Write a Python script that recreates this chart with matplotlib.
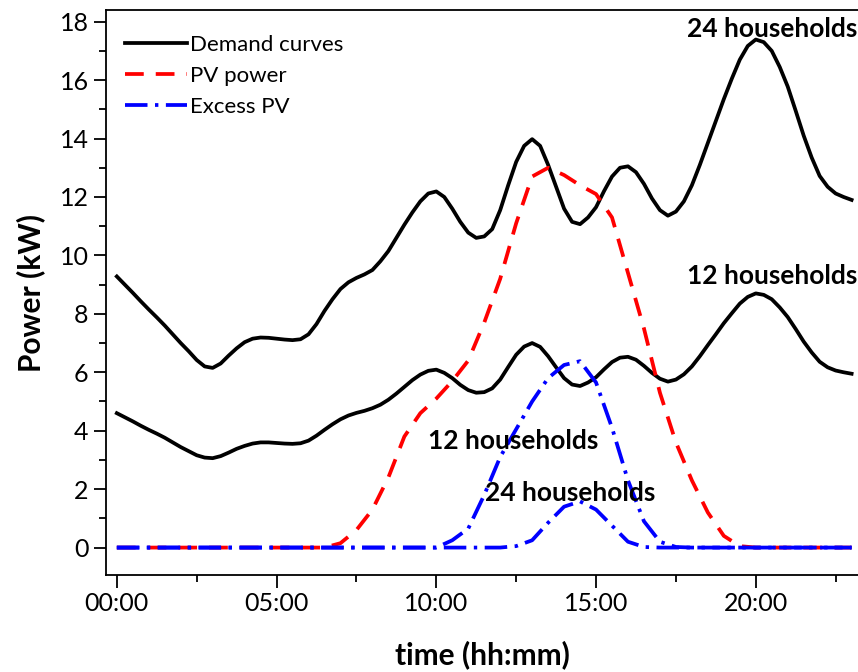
import numpy as np
import matplotlib
matplotlib.use('Agg')
import matplotlib.pyplot as plt
from matplotlib.ticker import MultipleLocator

plt.rcParams['font.family'] = ['Lato', 'DejaVu Sans']

# Horas: demanda cada 15 min, PV cada 30 min
hours_q = np.arange(0, 23.01, 0.25)
hours_h = np.arange(0, 23.01, 0.5)

# Curvas de demanda (kW)
demand_24 = [9.28, 9.0, 8.72, 8.43, 8.15, 7.88, 7.6, 7.3, 7.0, 6.72, 6.42, 6.2,
             6.15, 6.3, 6.57, 6.82, 7.03, 7.15, 7.19, 7.18, 7.15, 7.12, 7.1, 7.13,
             7.3, 7.65, 8.1, 8.5, 8.85, 9.08, 9.23, 9.35, 9.5, 9.8, 10.15, 10.6,
             11.05, 11.47, 11.85, 12.12, 12.19, 12.0, 11.6, 11.15, 10.78, 10.6, 10.65, 10.9,
             11.55, 12.4, 13.2, 13.75, 13.98, 13.75, 13.1, 12.35, 11.6, 11.15, 11.07, 11.3,
             11.65, 12.2, 12.7, 13.0, 13.05, 12.85, 12.45, 11.95, 11.55, 11.36, 11.5, 11.85,
             12.4, 13.1, 13.85, 14.6, 15.35, 16.05, 16.7, 17.17, 17.39, 17.3, 17.0, 16.45,
             15.78, 14.95, 14.1, 13.35, 12.72, 12.35, 12.12, 12.0, 11.9]
demand_12 = [4.6, 4.46, 4.32, 4.17, 4.03, 3.9, 3.76, 3.6, 3.44, 3.3, 3.16, 3.08,
             3.06, 3.13, 3.25, 3.38, 3.48, 3.56, 3.6, 3.6, 3.58, 3.56, 3.55, 3.57,
             3.66, 3.83, 4.03, 4.22, 4.39, 4.52, 4.61, 4.68, 4.77, 4.89, 5.06, 5.27,
             5.5, 5.73, 5.92, 6.05, 6.09, 5.98, 5.8, 5.57, 5.39, 5.3, 5.32, 5.45,
             5.75, 6.18, 6.6, 6.88, 7.0, 6.87, 6.55, 6.17, 5.8, 5.58, 5.53, 5.65,
             5.83, 6.1, 6.35, 6.5, 6.53, 6.43, 6.22, 5.98, 5.78, 5.68, 5.75, 5.93,
             6.2, 6.55, 6.93, 7.3, 7.68, 8.02, 8.35, 8.58, 8.7, 8.65, 8.5, 8.22,
             7.89, 7.48, 7.05, 6.68, 6.36, 6.17, 6.06, 6.0, 5.95]

# Potencia PV (kW)
pv_power = [0, 0, 0, 0, 0, 0, 0, 0, 0, 0, 0, 0,
            0, 0, 0.15, 0.6, 1.3, 2.4, 3.8, 4.6, 5.1, 5.7, 6.4, 7.7,
            9.2, 11.1, 12.7, 13.0, 12.75, 12.4, 12.1, 11.3, 9.4, 7.5, 5.3, 3.6,
            2.3, 1.2, 0.4, 0.05, 0, 0, 0, 0, 0, 0, 0]

# Exceso PV (kW)
excess_12 = [0, 0, 0, 0, 0, 0, 0, 0, 0, 0, 0, 0,
             0, 0, 0, 0, 0, 0, 0, 0, 0, 0.25, 0.65, 1.8,
             3.1, 4.05, 5.0, 5.8, 6.25, 6.38, 5.65, 4.1, 2.3, 0.9, 0.2, 0.02,
             0, 0, 0, 0, 0, 0, 0, 0, 0, 0, 0]
excess_24 = [0, 0, 0, 0, 0, 0, 0, 0, 0, 0, 0, 0,
             0, 0, 0, 0, 0, 0, 0, 0, 0, 0, 0, 0,
             0, 0.05, 0.25, 0.85, 1.4, 1.58, 1.3, 0.75, 0.2, 0.02, 0, 0,
             0, 0, 0, 0, 0, 0, 0, 0, 0, 0, 0]

xtick_pos = [0, 5, 10, 15, 20]
xtick_labels = ['00:00', '05:00', '10:00', '15:00', '20:00']

fig = plt.figure(figsize=(8.58, 6.72), dpi=100)
ax = fig.add_axes([0.1235, 0.1443, 0.8765, 0.8408])

lw = 2.7
ax.plot(hours_q, demand_24, color='black', lw=lw, label='Demand curves')
ax.plot(hours_q, demand_12, color='black', lw=lw)
ax.plot(hours_h, pv_power, color='red', lw=lw, dashes=(5, 3.2), label='PV power')
ax.plot(hours_h, excess_12, color='blue', lw=lw, dashes=(6, 2, 0.9, 2), label='Excess PV')
ax.plot(hours_h, excess_24, color='blue', lw=lw, dashes=(6, 2, 0.9, 2))

ax.text(20.5, 17.75, '24 households', ha='center', va='center', fontsize=19, fontweight='bold')
ax.text(20.5, 9.3, '12 households', ha='center', va='center', fontsize=19, fontweight='bold')
ax.text(12.4, 3.65, '12 households', ha='center', va='center', fontsize=19, fontweight='bold')
ax.text(14.2, 1.87, '24 households', ha='center', va='center', fontsize=19, fontweight='bold')

ax.set_xlim(-0.34, 23.2)
ax.set_ylim(-0.94, 18.4)
ax.set_xticks(xtick_pos)
ax.set_xticklabels(xtick_labels)
ax.xaxis.set_minor_locator(MultipleLocator(2.5))
ax.yaxis.set_major_locator(MultipleLocator(2))
ax.yaxis.set_minor_locator(MultipleLocator(1))
ax.tick_params(which='major', direction='out', length=9, width=1.3, labelsize=18)
ax.tick_params(which='minor', direction='out', length=5, width=1.3)
ax.spines['right'].set_visible(False)
for s in ['left', 'bottom', 'top']:
    ax.spines[s].set_linewidth(1.3)

ax.set_xlabel('time (hh:mm)', fontsize=21.5, fontweight='bold', labelpad=18)
ax.set_ylabel('Power (kW)', fontsize=21.5, fontweight='bold', labelpad=10)

ax.legend(loc='upper left', bbox_to_anchor=(0.0, 0.99), frameon=False, fontsize=16,
          handlelength=2.8, handletextpad=0.15, labelspacing=0.5, borderaxespad=0.45)

plt.savefig('out.png', dpi=100)
